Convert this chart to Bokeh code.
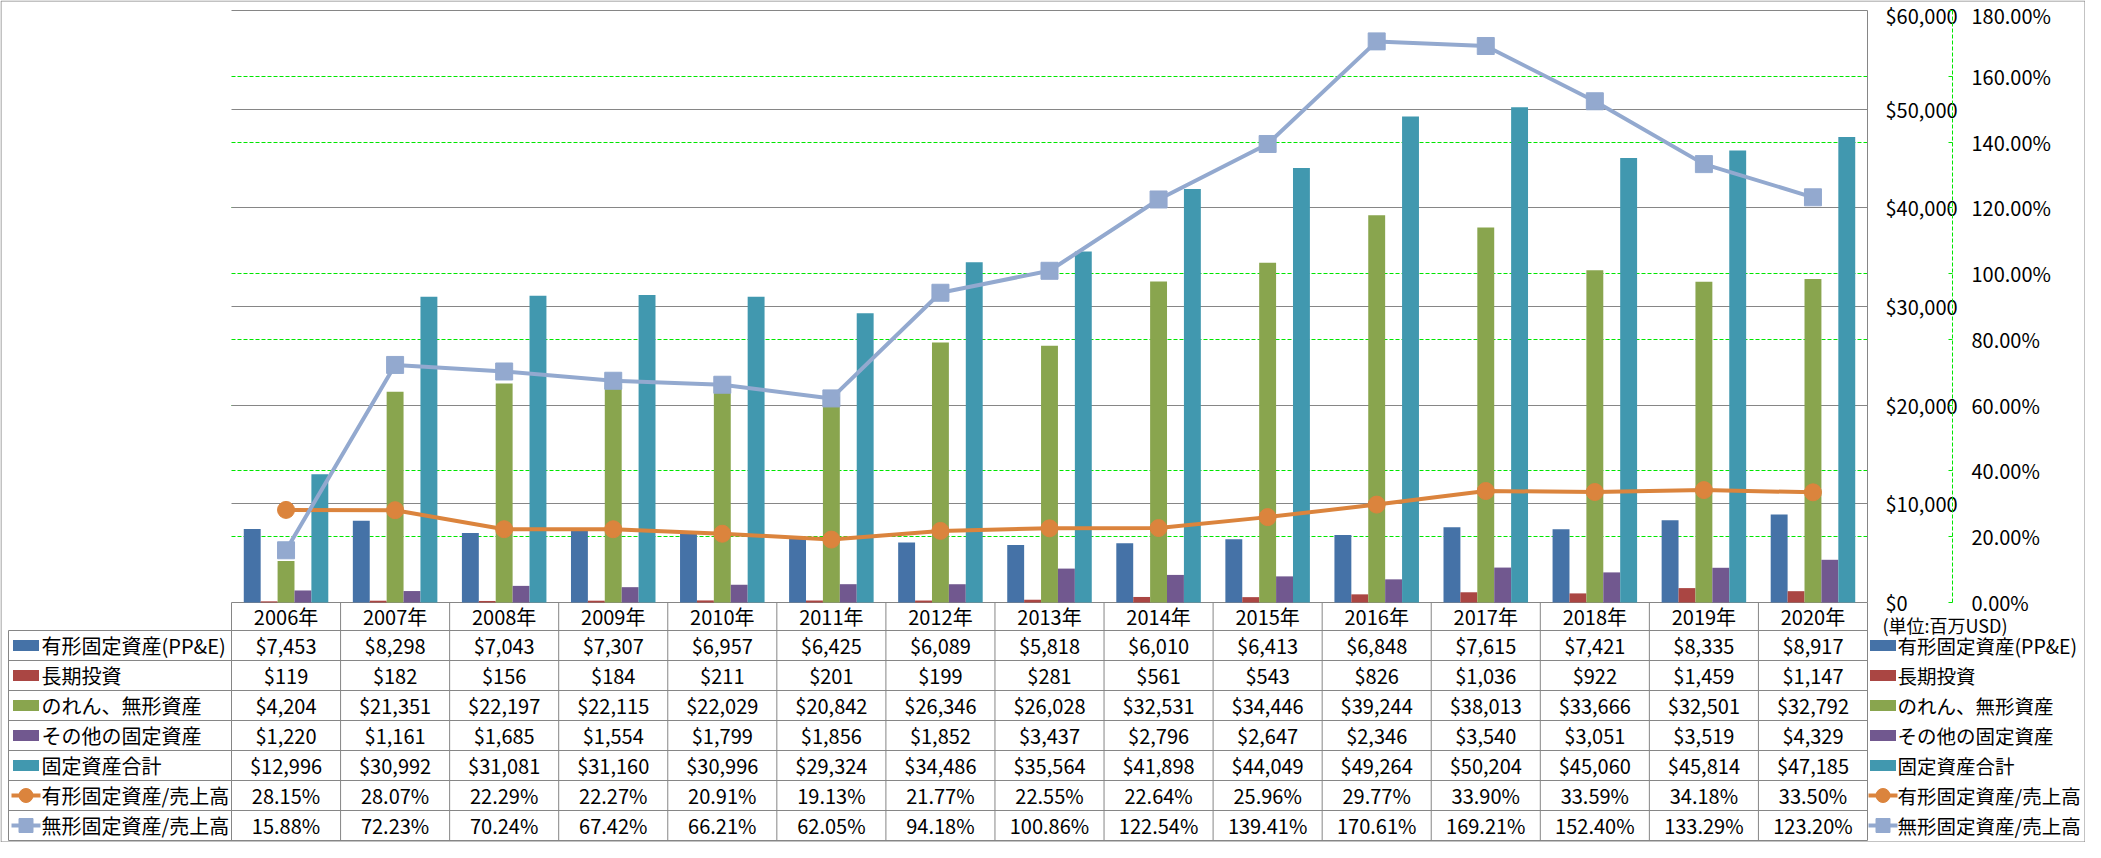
import numpy as np
from bokeh.plotting import figure
from bokeh.models import (ColumnDataSource, Range1d, LinearAxis, FixedTicker, NumeralTickFormatter,
                          PrintfTickFormatter, Grid)
from bokeh.core.properties import value
from bokeh.transform import dodge
from bokeh.embed import file_html
from bokeh.resources import INLINE

# ---------------- data ----------------
years = ["2006年", "2007年", "2008年", "2009年", "2010年", "2011年", "2012年", "2013年",
         "2014年", "2015年", "2016年", "2017年", "2018年", "2019年", "2020年"]
ppe = [7453, 8298, 7043, 7307, 6957, 6425, 6089, 5818, 6010, 6413, 6848, 7615, 7421, 8335, 8917]
lt_invest = [119, 182, 156, 184, 211, 201, 199, 281, 561, 543, 826, 1036, 922, 1459, 1147]
goodwill = [4204, 21351, 22197, 22115, 22029, 20842, 26346, 26028, 32531, 34446, 39244, 38013,
            33666, 32501, 32792]
other_fixed = [1220, 1161, 1685, 1554, 1799, 1856, 1852, 3437, 2796, 2647, 2346, 3540, 3051, 3519, 4329]
total_fixed = [12996, 30992, 31081, 31160, 30996, 29324, 34486, 35564, 41898, 44049, 49264, 50204,
               45060, 45814, 47185]
ppe_ratio = [28.15, 28.07, 22.29, 22.27, 20.91, 19.13, 21.77, 22.55, 22.64, 25.96, 29.77, 33.90,
             33.59, 34.18, 33.50]
intang_ratio = [15.88, 72.23, 70.24, 67.42, 66.21, 62.05, 94.18, 100.86, 122.54, 139.41, 170.61,
                169.21, 152.40, 133.29, 123.20]

bar_names = ["有形固定資産(PP&E)", "長期投資", "のれん、無形資産", "その他の固定資産", "固定資産合計"]
line_names = ["有形固定資産/売上高", "無形固定資産/売上高"]
usd_ticks = [0, 10000, 20000, 30000, 40000, 50000, 60000]
pct_ticks = [0, 20, 40, 60, 80, 100, 120, 140, 160, 180]
unit_text = "(単位:百万USD)"

# ---------------- style / layout ----------------
FONT = "Noto Sans CJK JP"
C_BARS = ["#4572A7", "#AA4643", "#89A54E", "#71588F", "#4198AF"]
C_LINES = ["#DB843D", "#93A9CF"]
GRAY = "#868686"
GREEN = "#00E600"

W, H = 2085, 842
FL, FT, FR, FB = 231, 10, 1867, 602   # plot area in figure px
N = len(years)
COLW = (FR - FL) / N
YPX = usd_ticks[-1] / (FB - FT)
PPX = pct_ticks[-1] / (FB - FT)
HDR, ROWH = 28, 30
TB = FB + HDR + 7 * ROWH
BW = 0.155
PCT_AXIS_X = 1952
LEG_X = 1868


def xd(px):
    return (px - FL) / COLW


def yd(py):
    return (FB - py) * YPX


def pd_(py):
    return (FB - py) * PPX


p = figure(width=W, height=H, output_backend="svg", toolbar_location=None,
           x_range=Range1d(xd(0), xd(W)), y_range=Range1d(yd(H), yd(0)),
           x_axis_location=None, y_axis_location=None, min_border=0)
p.extra_y_ranges = {"pct": Range1d(pd_(H), pd_(0))}
p.outline_line_color = None
p.grid.visible = False
p.background_fill_color = "white"
p.border_fill_color = "white"

# grids
p.add_layout(Grid(dimension=1, y_range_name="pct", ticker=FixedTicker(ticks=pct_ticks[1:-1]),
                  cross_bounds=(0, N), grid_line_color=GREEN, grid_line_dash="4 2",
                  grid_line_width=1))
p.add_layout(Grid(dimension=1, ticker=FixedTicker(ticks=usd_ticks), cross_bounds=(0, N),
                  grid_line_color=GRAY, grid_line_width=1))

# axes (both on the right of the plot area)
ax_usd = LinearAxis(ticker=FixedTicker(ticks=usd_ticks), formatter=NumeralTickFormatter(format="$0,0"),
                    fixed_location=N, bounds=(0, usd_ticks[-1]),
                    axis_line_color=GRAY, major_tick_in=0, major_tick_out=0,
                    minor_tick_line_color=None, major_label_standoff=18,
                    major_label_text_font=FONT, major_label_text_font_size="20px",
                    major_label_text_color="black")
p.add_layout(ax_usd, "right")
ax_pct = LinearAxis(y_range_name="pct", ticker=FixedTicker(ticks=pct_ticks),
                    formatter=PrintfTickFormatter(format="%.2f%%"),
                    fixed_location=xd(PCT_AXIS_X), bounds=(0, pct_ticks[-1]),
                    axis_line_color=GREEN, axis_line_dash="4 2", major_tick_in=4, major_tick_out=0,
                    major_tick_line_color=GREEN, minor_tick_line_color=None, major_label_standoff=19,
                    major_label_text_font=FONT, major_label_text_font_size="20px",
                    major_label_text_color="black")
p.add_layout(ax_pct, "right")

# bars and lines
xs = np.arange(N) + 0.5
src = ColumnDataSource(dict(x=xs, ppe=ppe, lti=lt_invest, gw=goodwill, oth=other_fixed,
                            tot=total_fixed, r1=ppe_ratio, r2=intang_ratio))
bar_cols = ["ppe", "lti", "gw", "oth", "tot"]
for i, (col, c) in enumerate(zip(bar_cols, C_BARS)):
    p.vbar(x=dodge("x", (i - 2) * BW, range=p.x_range), top=col, width=BW, bottom=0,
           source=src, fill_color=c, line_color=None)

p.line("x", "r1", source=src, y_range_name="pct", line_color=C_LINES[0], line_width=4)
p.scatter("x", "r1", source=src, y_range_name="pct", marker="circle", size=17,
          fill_color=C_LINES[0], line_color=C_LINES[0])
p.line("x", "r2", source=src, y_range_name="pct", line_color=C_LINES[1], line_width=4)
p.scatter("x", "r2", source=src, y_range_name="pct", marker="square", size=17,
          fill_color=C_LINES[1], line_color=C_LINES[1])

# ---------------- data table ----------------
row_lines_y = [yd(FB + HDR + ROWH * r) for r in range(8)]
seg_x0 = [xd(8)] * 8 + list(range(N + 1)) + [xd(8)]
seg_x1 = [N] * 8 + list(range(N + 1)) + [xd(8)]
seg_y0 = row_lines_y + [0] * (N + 1) + [yd(FB + HDR)]
seg_y1 = row_lines_y + [yd(TB)] * (N + 1) + [yd(TB)]
p.segment(x0=seg_x0, y0=seg_y0, x1=seg_x1, y1=seg_y1, line_color=GRAY, line_width=1)

txt_kw = dict(text_align="center", text_baseline="middle", text_font=value(FONT),
              text_font_size="20px", text_color="black")
p.text(x=xs, y=[yd(FB + HDR / 2)] * N, text=years, **txt_kw)

row_texts = [[f"${v:,}" for v in ppe], [f"${v:,}" for v in lt_invest], [f"${v:,}" for v in goodwill],
             [f"${v:,}" for v in other_fixed], [f"${v:,}" for v in total_fixed],
             [f"{v:.2f}%" for v in ppe_ratio], [f"{v:.2f}%" for v in intang_ratio]]
row_cy = [FB + HDR + ROWH * r + ROWH / 2 for r in range(7)]
for r, texts in enumerate(row_texts):
    p.text(x=xs, y=[yd(row_cy[r])] * N, text=texts, **txt_kw)

# legend keys: left (row headers) and right side
for key_left, txt_x, fs in ((11, 41, "20px"), (LEG_X, LEG_X + 29, "19.5px")):
    kc = key_left + 14.5
    p.rect(x=[xd(kc)] * 5, y=[yd(c) for c in row_cy[:5]], width=26, height=11,
           width_units="screen", height_units="screen", fill_color=C_BARS, line_color=None)
    for j, m in enumerate(["circle", "square"]):
        yc = yd(row_cy[5 + j])
        p.segment(x0=[xd(key_left)], y0=[yc], x1=[xd(key_left + 29)], y1=[yc],
                  line_color=C_LINES[j], line_width=4)
        p.scatter(x=[xd(kc)], y=[yc], marker=m, size=14, fill_color=C_LINES[j],
                  line_color=C_LINES[j])
    p.text(x=[xd(txt_x)] * 7, y=[yd(c) for c in row_cy], text=bar_names + line_names,
           text_align="left", text_baseline="middle", text_font=value(FONT),
           text_font_size=fs, text_color="black")

p.text(x=[xd(1882)], y=[yd(FB + 22)], text=[unit_text], text_align="left", text_baseline="middle",
       text_font=value(FONT), text_font_size="18px", text_color="black")

# outer chart border
p.quad(left=[xd(0.5)], right=[xd(W - 0.5)], top=[yd(0.5)], bottom=[yd(H - 0.5)],
       fill_alpha=0, line_color=GRAY, line_width=1)

open("out.html", "w").write(file_html(p, INLINE))
